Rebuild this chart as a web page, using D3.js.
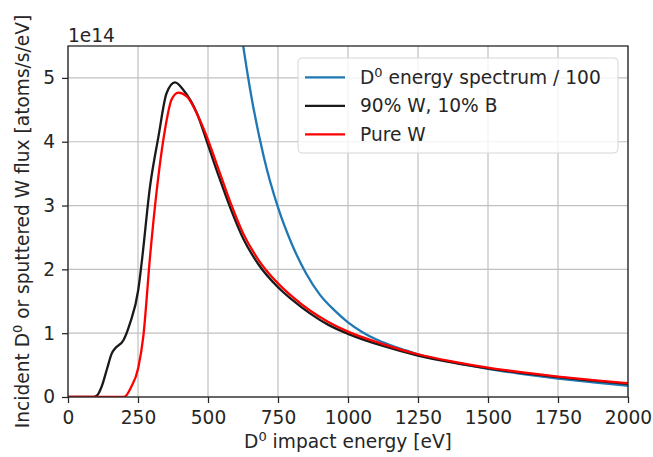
<!DOCTYPE html>
<html>
<head>
<meta charset="utf-8">
<title>D0 impact energy flux</title>
<script src="https://cdn.jsdelivr.net/npm/d3@7"></script>
<style>
  body { margin: 0; background: #fff; }
  text { font-family: "DejaVu Sans", sans-serif; fill: #262626; }
  .tick text { font-size: 18.6px; }
  .grid line { stroke: #c0c0c0; stroke-width: 1.2; }
</style>
</head>
<body>
<div id="chart"></div>
<script>
// values in units of 1e14
var blueE = [560, 600, 650, 700, 750, 800, 850, 900, 950, 1000, 1050, 1100, 1150, 1200, 1250, 1375, 1500, 1625, 1750, 1875, 2000];
var blueV = [8.0, 6.34, 4.83, 3.75, 2.97, 2.39, 1.94, 1.60, 1.365, 1.17, 1.02, 0.905, 0.815, 0.74, 0.67, 0.545, 0.44, 0.36, 0.29, 0.23, 0.175];

var mixE = [0, 90, 105, 120, 140, 156, 168, 198, 221, 251, 263, 293, 323, 352, 382, 412, 460, 500, 540, 580, 626, 680, 750, 800, 864, 930, 1000, 1125, 1250, 1375, 1500, 1625, 1750, 1875, 2000];
var mixV = [0, 0, 0.03, 0.16, 0.45, 0.68, 0.76, 0.89, 1.15, 1.68, 2.1, 3.30, 4.08, 4.76, 4.93, 4.81, 4.45, 3.95, 3.44, 2.96, 2.48, 2.08, 1.72, 1.525, 1.31, 1.13, 0.99, 0.80, 0.65, 0.54, 0.45, 0.375, 0.31, 0.255, 0.205];

var pureE = [0, 200, 225, 251, 269, 293, 317, 346, 370, 394, 424, 471, 500, 540, 580, 626, 680, 750, 800, 864, 930, 1000, 1125, 1250, 1375, 1500, 1625, 1750, 1875, 2000];
var pureV = [0, 0, 0.15, 0.46, 0.95, 2.2, 3.24, 4.18, 4.66, 4.77, 4.71, 4.34, 4.03, 3.54, 3.05, 2.56, 2.15, 1.78, 1.575, 1.355, 1.175, 1.025, 0.83, 0.67, 0.555, 0.46, 0.385, 0.32, 0.265, 0.215];

var xTicks = [0, 250, 500, 750, 1000, 1250, 1500, 1750, 2000];
var yTicks = [0, 1, 2, 3, 4, 5];

var width = 653, height = 457;
var margin = {top: 46, right: 25, bottom: 60, left: 68};
var fs = '18.6px', sup = '13px';

var svg = d3.select('#chart').append('svg')
    .attr('width', width).attr('height', height);

var x = d3.scaleLinear().domain([0, 2000]).range([margin.left, width - margin.right]);
var y = d3.scaleLinear().domain([0, 5.5]).range([height - margin.bottom, margin.top]);

// grid
var grid = svg.append('g').attr('class', 'grid');
grid.selectAll('.vx').data(xTicks).enter().append('line')
    .attr('x1', d => x(d)).attr('x2', d => x(d))
    .attr('y1', y(0)).attr('y2', y(5.5));
grid.selectAll('.hy').data(yTicks).enter().append('line')
    .attr('x1', x(0)).attr('x2', x(2000))
    .attr('y1', d => y(d)).attr('y2', d => y(d));

svg.append('clipPath').attr('id', 'clip').append('rect')
    .attr('x', x(0)).attr('y', y(5.5))
    .attr('width', x(2000) - x(0)).attr('height', y(0) - y(5.5));

var series = [
  {E: blueE, V: blueV, color: '#1f77b4', label: 'energy'},
  {E: mixE, V: mixV, color: '#1a1a1a', label: '90% W, 10% B'},
  {E: pureE, V: pureV, color: '#ff0000', label: 'Pure W'}
];

var line = d3.line().x(d => x(d[0])).y(d => y(d[1])).curve(d3.curveMonotoneX);

svg.append('g').attr('clip-path', 'url(#clip)')
  .selectAll('path').data(series).enter().append('path')
    .attr('d', s => line(s.E.map((e, i) => [e, s.V[i]])))
    .attr('fill', 'none')
    .attr('stroke', s => s.color)
    .attr('stroke-width', 2.3)
    .attr('stroke-linejoin', 'round');

// axes
var xAxis = svg.append('g').attr('transform', 'translate(0,' + y(0) + ')')
    .call(d3.axisBottom(x).tickValues(xTicks).tickFormat(d3.format('d')).tickSize(6).tickPadding(7.5));
var yAxis = svg.append('g').attr('transform', 'translate(' + x(0) + ',0)')
    .call(d3.axisLeft(y).tickValues(yTicks).tickFormat(d3.format('d')).tickSize(6).tickPadding(7));
[xAxis, yAxis].forEach(function(a) {
  a.select('.domain').remove();
  a.selectAll('.tick line').attr('stroke', '#262626').attr('stroke-width', 1.25);
  a.selectAll('.tick text').attr('fill', '#262626');
});

// frame
svg.append('rect')
    .attr('x', x(0)).attr('y', y(5.5))
    .attr('width', x(2000) - x(0)).attr('height', y(0) - y(5.5))
    .attr('fill', 'none').attr('stroke', '#262626').attr('stroke-width', 1.3);

svg.append('text').attr('x', x(0)).attr('y', 42)
    .style('font-size', fs).text('1e14');

// axis labels
var xl = svg.append('text').attr('x', (x(0) + x(2000)) / 2).attr('y', 448)
    .attr('text-anchor', 'middle').style('font-size', fs);
xl.append('tspan').text('D');
xl.append('tspan').attr('dy', -7).style('font-size', sup).text('0');
xl.append('tspan').attr('dy', 7).text(' impact energy [eV]');

var yl = svg.append('text')
    .attr('transform', 'translate(28.5,' + ((y(0) + y(5.5)) / 2) + ') rotate(-90)')
    .attr('text-anchor', 'middle').style('font-size', fs);
yl.append('tspan').text('Incident D');
yl.append('tspan').attr('dy', -7).style('font-size', sup).text('0');
yl.append('tspan').attr('dy', 7).text(' or sputtered W flux [atoms/s/eV]');

// legend
var lg = svg.append('g').attr('transform', 'translate(298,58)');
lg.append('rect').attr('width', 320).attr('height', 95).attr('rx', 4)
    .attr('fill', 'rgba(255,255,255,0.8)').attr('stroke', '#d6d6d6');
series.forEach(function(s, i) {
  var yy = 19.3 + i * 28.5;
  lg.append('line').attr('x1', 7).attr('x2', 47).attr('y1', yy).attr('y2', yy)
      .attr('stroke', s.color).attr('stroke-width', 2.3);
  var t = lg.append('text').attr('x', 62).attr('y', yy + 6.5).style('font-size', fs);
  if (i === 0) {
    t.append('tspan').text('D');
    t.append('tspan').attr('dy', -7).style('font-size', sup).text('0');
    t.append('tspan').attr('dy', 7).text(' energy spectrum / 100');
  } else {
    t.text(s.label);
  }
});
</script>
</body>
</html>
